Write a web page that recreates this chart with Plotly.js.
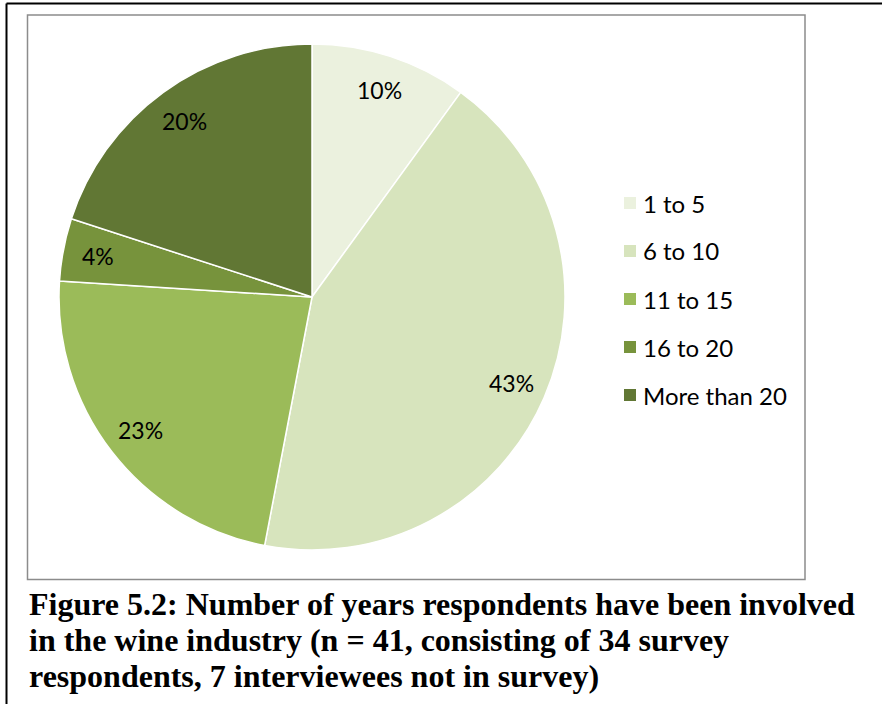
<!DOCTYPE html>
<html>
<head>
<meta charset="utf-8">
<script src="https://cdn.plot.ly/plotly-3.0.1.min.js"></script>
<style>
html,body{margin:0;padding:0;background:#fff;}
#chart{width:882px;height:704px;}
</style>
</head>
<body>
<div id="chart"></div>
<script>
// ---- data ----
var categories = ["1 to 5", "6 to 10", "11 to 15", "16 to 20", "More than 20"];
var percentValues = [10, 43, 23, 4, 20];
var percentLabels = ["10%", "43%", "23%", "4%", "20%"];
var sliceColors = ["#EBF1DE", "#D7E4BD", "#9BBB59", "#77933C", "#617734"];
var captionLines = [
  "Figure 5.2: Number of years respondents have been involved",
  "in the wine industry (n = 41, consisting of 34 survey",
  "respondents, 7 interviewees not in survey)"
];

// ---- layout constants ----
var W = 882, H = 704;
var pieLeft = 59, pieRight = 565, pieTop = 44, pieBottom = 550;
var domX = [pieLeft / W, pieRight / W];
var domY = [1 - pieBottom / H, 1 - pieTop / H];
var cx = (pieLeft + pieRight) / 2, cy = (pieTop + pieBottom) / 2;
var R = (pieRight - pieLeft) / 2;
var labelFont = "Lato, 'Open Sans', sans-serif";

var annotations = [];
var shapes = [];

// percent labels placed along each slice's mid angle
var total = percentValues.reduce(function(a, b){ return a + b; }, 0);
var cum = 0;
for (var i = 0; i < percentValues.length; i++) {
  var mid = (cum + percentValues[i] / 2) / total * 2 * Math.PI;
  cum += percentValues[i];
  var r = 0.86 * R;
  var px = cx + r * Math.sin(mid);
  var py = cy - r * Math.cos(mid);
  annotations.push({
    x: px / W, y: 1 - py / H, xref: "paper", yref: "paper",
    text: percentLabels[i], showarrow: false,
    xanchor: "center", yanchor: "middle",
    font: {family: labelFont, size: 23, color: "#000"}
  });
}

// custom legend
var legX = 630, legY0 = 203, legStep = 48, sq = 12;
for (var j = 0; j < categories.length; j++) {
  var ly = legY0 + j * legStep;
  shapes.push({
    type: "rect", xref: "paper", yref: "paper",
    x0: (legX - sq / 2) / W, x1: (legX + sq / 2) / W,
    y0: 1 - (ly + sq / 2) / H, y1: 1 - (ly - sq / 2) / H,
    fillcolor: sliceColors[j], line: {width: 0}
  });
  annotations.push({
    x: (legX + 11) / W, y: 1 - ly / H, xref: "paper", yref: "paper",
    text: categories[j], showarrow: false,
    xanchor: "left", yanchor: "middle",
    font: {family: labelFont, size: 24, color: "#000"}
  });
}

// caption
for (var k = 0; k < captionLines.length; k++) {
  annotations.push({
    x: 27 / W, y: 1 - (604 + k * 36) / H, xref: "paper", yref: "paper",
    text: "<b>" + captionLines[k] + "</b>", showarrow: false,
    xanchor: "left", yanchor: "middle",
    font: {family: "'Liberation Serif', 'Times New Roman', serif", size: 32, color: "#000"}
  });
}

// outer page border (top and left) and inner chart frame
shapes.push({type: "line", xref: "paper", yref: "paper",
  x0: 6.5 / W, x1: 1, y0: 1 - 3.5 / H, y1: 1 - 3.5 / H, line: {color: "#000", width: 2}});
shapes.push({type: "line", xref: "paper", yref: "paper",
  x0: 6.5 / W, x1: 6.5 / W, y0: 0, y1: 1 - 3.5 / H, line: {color: "#000", width: 2}});
shapes.push({type: "rect", xref: "paper", yref: "paper",
  x0: 27.5 / W, x1: 805 / W, y0: 1 - 579.5 / H, y1: 1 - 15 / H,
  line: {color: "#8C8C8C", width: 1.5}, fillcolor: "rgba(0,0,0,0)"});

var trace = {
  type: "pie",
  labels: categories,
  values: percentValues,
  sort: false,
  direction: "clockwise",
  rotation: 0,
  textinfo: "none",
  hoverinfo: "label+percent",
  marker: {colors: sliceColors, line: {color: "#ffffff", width: 1.5}},
  domain: {x: domX, y: domY},
  showlegend: false
};

var layout = {
  width: W, height: H,
  margin: {l: 0, r: 0, t: 0, b: 0, pad: 0},
  paper_bgcolor: "#ffffff",
  plot_bgcolor: "#ffffff",
  showlegend: false,
  annotations: annotations,
  shapes: shapes
};

Plotly.newPlot("chart", [trace], layout, {displayModeBar: false, staticPlot: true});
</script>
</body>
</html>
